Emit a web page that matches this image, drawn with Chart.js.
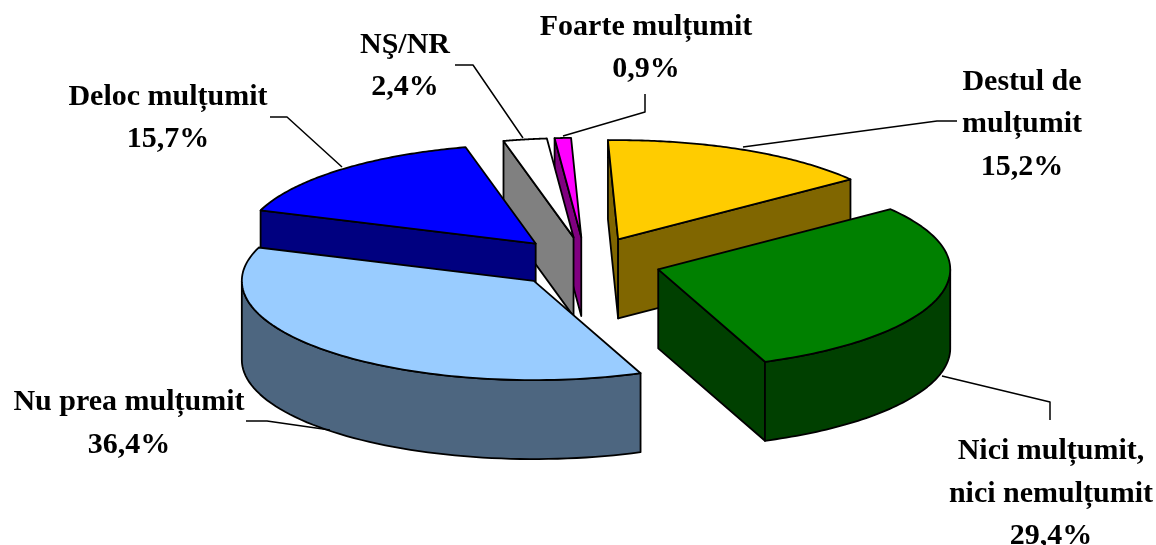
<!DOCTYPE html>
<html><head><meta charset="utf-8">
<script src="https://cdn.jsdelivr.net/npm/chart.js@4"></script>
<style>html,body{margin:0;padding:0;background:#fff}canvas{display:block}#w{width:1156px;height:545px}</style>
</head><body><div id="w"><canvas id="c"></canvas></div>
<script>
const categories=["Destul de mulțumit","Nici mulțumit, nici nemulțumit","Nu prea mulțumit","Deloc mulțumit","NŞ/NR","Foarte mulțumit"];
const values=[15.2,29.4,36.4,15.7,2.4,0.9];
const topColors=["#ffcc00","#008000","#99ccff","#0000ff","#ffffff","#ff00ff"];
const sideColors=["#806600","#004000","#4d6680","#000080","#808080","#800080"];

const RX=292, TILT=0.34, EXPLODE=75, DEPTH=79;
function depthAt(y){ return DEPTH; }

class Arc3D extends Chart.ArcElement{
  draw(ctx){
    const p=this.getProps(['x','y','startAngle','endAngle','outerRadius']);
    const s=p.startAngle,e=p.endAngle,mid=(s+e)/2;
    const ox=p.x+EXPLODE*Math.cos(mid), oy=p.y+EXPLODE*TILT*Math.sin(mid);
    const top=t=>[ox+RX*Math.cos(t),oy+RX*TILT*Math.sin(t)];
    const down=q=>[q[0],q[1]+depthAt(q[1])];
    const A=[ox,oy],P=top(s),Q=top(e),M=top(mid);
    const o=this.options;
    const poly=(pts,fill)=>{ctx.beginPath();pts.forEach((q,i)=>i?ctx.lineTo(q[0],q[1]):ctx.moveTo(q[0],q[1]));ctx.closePath();ctx.fillStyle=fill;ctx.fill();ctx.strokeStyle='#000';ctx.lineWidth=1.8;ctx.lineJoin='round';ctx.stroke();};
    const side=o.borderColor;
    const visible=R=>{const d=R[0]-A[0];if(Math.abs(d)<1e-6)return false;const ly=A[1]+(R[1]-A[1])*(M[0]-A[0])/d;return M[1]<ly;};
    [P,Q].forEach(R=>{if(visible(R))poly([A,R,down(R),down(A)],side);});
    const tp=Math.PI*2;
    for(const k of [-1,0,1]){
      const a=Math.max(s,k*tp),b=Math.min(e,k*tp+Math.PI);
      if(b>a){const u=[],d=[];const n=60;for(let i=0;i<=n;i++){const q=top(a+(b-a)*i/n);u.push(q);d.unshift(down(q));}poly(u.concat(d),side);}
    }
    const pts=[A];const n=90;for(let i=0;i<=n;i++)pts.push(top(s+(e-s)*i/n));
    poly(pts,o.backgroundColor);
  }
}
Arc3D.id='arc3d';
Arc3D.defaults=Object.assign({},Chart.ArcElement.defaults);
Arc3D.defaultRoutes=Chart.ArcElement.defaultRoutes;

class Pie3D extends Chart.PieController{
  draw(){
    const ctx=this._ctx,area=this.chart.chartArea;
    const els=(this._cachedMeta.data||[]).slice();
    els.sort((a,b)=>Math.sin((a.startAngle+a.endAngle)/2)-Math.sin((b.startAngle+b.endAngle)/2));
    els.forEach(el=>el.draw(ctx,area));
  }
}
Pie3D.id='pie3d';
Pie3D.defaults=Object.assign({},Chart.PieController.defaults,{dataElementType:'arc3d'});
Pie3D.overrides=Chart.PieController.overrides;
Chart.register(Arc3D,Pie3D);

const labelBlocks=[
 {lines:["Destul de","mulțumit","15,2%"],x:1022,y:[82,124,167]},
 {lines:["Nici mulțumit,","nici nemulțumit","29,4%"],x:1051,y:[451,494,536]},
 {lines:["Nu prea mulțumit","36,4%"],x:129,y:[402,445]},
 {lines:["Deloc mulțumit","15,7%"],x:168,y:[97,139]},
 {lines:["NŞ/NR","2,4%"],x:405,y:[45,87]},
 {lines:["Foarte mulțumit","0,9%"],x:646,y:[27,69]}
];
const leaders=[
 [[957,121],[937,121],[743,147]],
 [[1050,420],[1050,402],[942,376]],
 [[246,421],[267,421],[330,430]],
 [[270,117],[287,117],[342,167]],
 [[455,65],[473,65],[523,138]],
 [[645,94],[645,112],[563,136]]
];
const labelPlugin={id:'labels3d',afterDatasetsDraw(chart){
  const ctx=chart.ctx;ctx.save();
  ctx.strokeStyle='#000';ctx.lineWidth=1.5;
  leaders.forEach(l=>{ctx.beginPath();l.forEach((q,i)=>i?ctx.lineTo(q[0],q[1]):ctx.moveTo(q[0],q[1]));ctx.stroke();});
  ctx.fillStyle='#000';ctx.font='bold 30px "Liberation Serif"';ctx.textAlign='center';ctx.textBaseline='middle';
  labelBlocks.forEach(b=>b.lines.forEach((t,i)=>ctx.fillText(t,b.x,b.y[i])));
  ctx.restore();
}};
new Chart(document.getElementById('c'),{
  type:'pie3d',
  data:{labels:categories,datasets:[{data:values,backgroundColor:topColors,borderColor:sideColors,borderWidth:1}]},
  options:{responsive:true,maintainAspectRatio:false,animation:false,rotation:-2,
    layout:{padding:{left:16,bottom:20}},
    plugins:{legend:{display:false},tooltip:{enabled:false}}},
  plugins:[labelPlugin]
});
</script></body></html>
